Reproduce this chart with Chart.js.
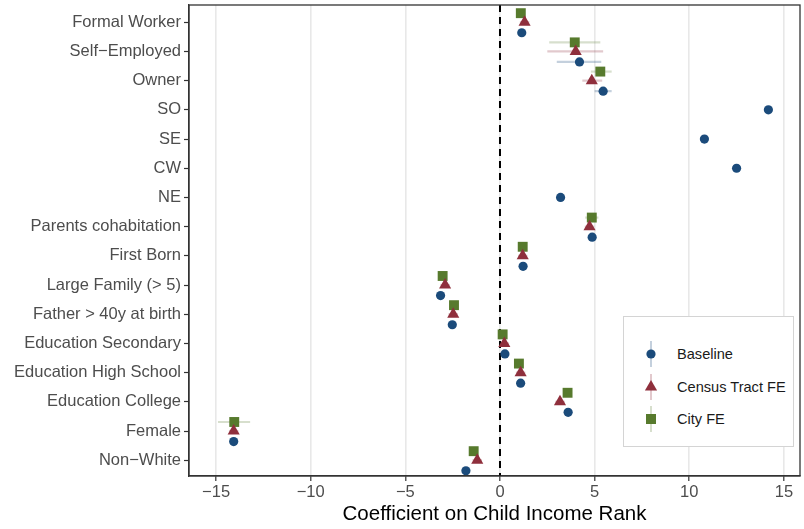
<!DOCTYPE html>
<html>
<head>
<meta charset="utf-8">
<script src="https://cdn.jsdelivr.net/npm/chart.js@4/dist/chart.umd.min.js"></script>
<style>
  html, body { margin: 0; padding: 0; background: #fff; }
  #wrap { position: relative; width: 804px; height: 529px; }
  #legend {
    position: absolute; left: 623px; top: 316px; width: 169px; height: 129px;
    border: 1px solid #d4d4d4; background: #fff;
    font-family: "Liberation Sans", Arial, sans-serif; font-size: 14.6px; color: #1a1a1a;
  }
  .item { position: absolute; left: 0; height: 30px; display: flex; align-items: center; }
  .item svg { position: absolute; left: 15px; top: 0; }
  .item span { position: absolute; left: 53px; white-space: nowrap; top: 50%; transform: translateY(-50%); }
</style>
</head>
<body>
<div id="wrap">
  <canvas id="chart" width="804" height="529"></canvas>
  <div id="legend"></div>
</div>
<script>
// categories top to bottom
const categories = ['Formal Worker', 'Self\u2212Employed', 'Owner', 'SO', 'SE', 'CW', 'NE',
  'Parents cohabitation', 'First Born', 'Large Family (> 5)', 'Father > 40y at birth',
  'Education Secondary', 'Education High School', 'Education College', 'Female', 'Non\u2212White'];

const baseline = [1.15, 4.2, 5.45, 14.18, 10.8, 12.5, 3.2, 4.87, 1.22, -3.14, -2.52, 0.26, 1.09, 3.6, -14.07, -1.8];
const baseLo   = [0.95, 3.0, 5.0, 14.0, 10.6, 12.3, 3.0, 4.67, 1.02, -3.34, -2.72, 0.06, 0.89, 3.4, -14.27, -2.0];
const baseHi   = [1.35, 5.35, 5.9, 14.38, 11.0, 12.7, 3.4, 5.07, 1.42, -2.94, -2.32, 0.46, 1.29, 3.8, -13.87, -1.6];

const tract   = [1.3, 4.0, 4.85, null, null, null, null, 4.73, 1.2, -2.9, -2.47, 0.23, 1.09, 3.17, -14.07, -1.2];
const tractLo = [1.05, 2.5, 4.35, null, null, null, null, 4.48, 0.95, -3.15, -2.72, -0.02, 0.84, 2.92, -14.32, -1.45];
const tractHi = [1.55, 5.45, 5.4, null, null, null, null, 4.98, 1.45, -2.65, -2.22, 0.48, 1.34, 3.42, -13.82, -0.95];

const city   = [1.1, 3.95, 5.3, null, null, null, null, 4.85, 1.2, -3.03, -2.43, 0.14, 1.0, 3.57, -14.04, -1.39];
const cityLo = [0.88, 2.6, 4.8, null, null, null, null, 4.5, 0.98, -3.25, -2.65, -0.08, 0.78, 3.35, -14.9, -1.61];
const cityHi = [1.32, 5.3, 5.9, null, null, null, null, 5.2, 1.42, -2.81, -2.21, 0.36, 1.22, 3.79, -13.2, -1.17];

const xTicks = [-15, -10, -5, 0, 5, 10, 15];

const series = [
  { label: 'Baseline', values: baseline, lo: baseLo, hi: baseHi, color: '#1b4b7b', bar: 'rgba(27,75,123,0.26)', style: 'circle', radius: 4.6, dodge: 0.36 },
  { label: 'Census Tract FE', values: tract, lo: tractLo, hi: tractHi, color: '#8f2f3c', bar: 'rgba(143,47,60,0.26)', style: 'triangle', radius: 7, dodge: 0.0 },
  { label: 'City FE', values: city, lo: cityLo, hi: cityHi, color: '#577a2d', bar: 'rgba(87,122,45,0.24)', style: 'rect', radius: 7, dodge: -0.31 }
];

// rows with only one estimate sit on the category line
function rowPos(s, i) {
  const alone = series.filter(o => o.values[i] != null).length === 1;
  return i + (alone ? 0 : s.dodge);
}

const FONT = '"Liberation Sans", Arial, sans-serif';

const errorBars = {
  id: 'errorBars',
  beforeDatasetsDraw(chart) {
    const { ctx, scales: { x, y }, chartArea } = chart;
    ctx.save();
    series.forEach(s => {
      ctx.strokeStyle = s.bar;
      ctx.lineWidth = 2.2;
      s.values.forEach((v, i) => {
        if (v == null) return;
        const py = y.getPixelForValue(rowPos(s, i));
        ctx.beginPath();
        ctx.moveTo(x.getPixelForValue(s.lo[i]), py);
        ctx.lineTo(x.getPixelForValue(s.hi[i]), py);
        ctx.stroke();
      });
    });
    // zero reference line
    const x0 = x.getPixelForValue(0);
    ctx.strokeStyle = '#000';
    ctx.lineWidth = 2;
    ctx.setLineDash([7, 5]);
    ctx.beginPath();
    ctx.moveTo(x0, chartArea.top);
    ctx.lineTo(x0, chartArea.bottom);
    ctx.stroke();
    ctx.restore();
  },
  afterDraw(chart) {
    const { ctx, chartArea: a } = chart;
    ctx.save();
    ctx.strokeStyle = '#333';
    ctx.lineWidth = 1.3;
    ctx.strokeRect(a.left, a.top, a.right - a.left, a.bottom - a.top);
    ctx.restore();
  }
};

const datasets = series.map(s => ({
  label: s.label,
  data: s.values.map((v, i) => v == null ? null : { x: v, y: rowPos(s, i) }).filter(p => p),
  pointStyle: s.style,
  pointRadius: s.radius,
  pointHoverRadius: s.radius,
  backgroundColor: s.color,
  borderColor: s.color,
  borderWidth: 0,
  showLine: false
}));

new Chart(document.getElementById('chart'), {
  type: 'scatter',
  data: { datasets },
  options: {
    responsive: false,
    animation: false,
    layout: { autoPadding: false, padding: { top: 5, right: 4, left: 0, bottom: 0 } },
    plugins: { legend: { display: false }, tooltip: { enabled: false } },
    scales: {
      x: {
        type: 'linear',
        min: -16.43,
        max: 15.85,
        afterBuildTicks: scale => { scale.ticks = xTicks.map(v => ({ value: v })); },
        afterFit: scale => { scale.height = 53; scale.paddingLeft = 0; scale.paddingRight = 0; },
        ticks: {
          callback: v => v < 0 ? '\u2212' + Math.abs(v) : String(v),
          font: { family: FONT, size: 16.5 },
          color: '#4d4d4d',
          padding: 2,
          maxRotation: 0
        },
        grid: { color: '#e8e8e8', lineWidth: 1.6, tickColor: '#333', tickLength: 5, tickWidth: 1.2 },
        border: { color: '#333', width: 1.3 },
        title: {
          display: true,
          text: 'Coefficient on Child Income Rank',
          font: { family: FONT, size: 20.5 },
          color: '#000',
          padding: { top: 0, bottom: 2 }
        }
      },
      y: {
        type: 'linear',
        reverse: true,
        min: -0.59,
        max: 15.54,
        afterBuildTicks: scale => { scale.ticks = categories.map((c, i) => ({ value: i })); },
        afterFit: scale => { scale.width = 189; scale.paddingTop = 0; scale.paddingBottom = 0; },
        ticks: {
          callback: v => categories[v],
          font: { family: FONT, size: 16.5 },
          color: '#4d4d4d',
          padding: 3
        },
        grid: { drawOnChartArea: false, tickColor: '#333', tickLength: 5, tickWidth: 1.2 },
        border: { color: '#333', width: 1.3 }
      }
    }
  },
  plugins: [errorBars]
});

// legend as html
const legend = document.getElementById('legend');
series.forEach((s, k) => {
  const item = document.createElement('div');
  item.className = 'item';
  item.style.top = (22 + k * 32.5) + 'px';
  let shape;
  if (s.style === 'circle') shape = `<circle cx="12" cy="15" r="4.6" fill="${s.color}"/>`;
  else if (s.style === 'triangle') shape = `<polygon points="12,8 18.1,18.5 5.9,18.5" fill="${s.color}"/>`;
  else shape = `<rect x="7" y="10" width="10" height="10" fill="${s.color}"/>`;
  item.innerHTML = `<svg width="24" height="30"><line x1="12" y1="2" x2="12" y2="28" stroke="${s.bar}" stroke-width="2"/>${shape}</svg><span>${s.label}</span>`;
  legend.appendChild(item);
});
</script>
</body>
</html>
